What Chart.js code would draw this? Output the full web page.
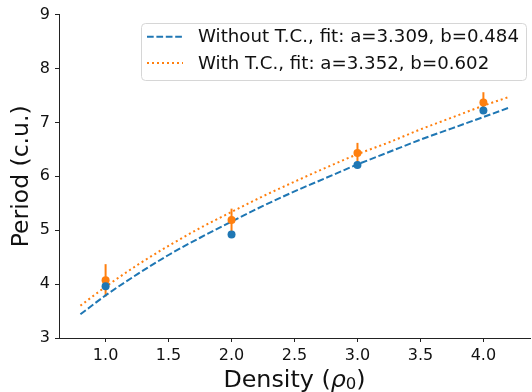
<!DOCTYPE html>
<html>
<head>
<meta charset="utf-8">
<script src="https://cdn.jsdelivr.net/npm/chart.js@4/dist/chart.umd.min.js"></script>
<style>
    html, body { margin: 0; padding: 0; background: #fff; overflow: hidden; }
    #wrap { width: 534px; height: 392px; }
</style>
</head>
<body>
<div id="wrap"><canvas id="chart"></canvas></div>
<script>
// measured points
const densities = [1.0, 2.0, 3.0, 4.0];
const periodNoTC = [3.96, 4.92, 6.21, 7.22];
const errNoTC = [0.03, 0.03, 0.03, 0.03];
const periodTC = [4.07, 5.19, 6.43, 7.37];
const errTC = [0.30, 0.21, 0.19, 0.19];

// fit curves
const fitDensity = [0.8, 1.0, 1.25, 1.5, 1.75, 2.0, 2.25, 2.5, 2.75, 3.0, 3.25, 3.5, 3.75, 4.0, 4.2];
const fitNoTC = [3.44, 3.79, 4.18, 4.54, 4.86, 5.16, 5.45, 5.72, 5.97, 6.22, 6.45, 6.68, 6.89, 7.10, 7.27];
const fitTC = [3.60, 3.95, 4.35, 4.71, 5.04, 5.34, 5.63, 5.90, 6.16, 6.41, 6.63, 6.87, 7.09, 7.31, 7.47];

const fitLabels = [
    'Without T.C., fit: a=3.309, b=0.484',
    'With T.C., fit: a=3.352, b=0.602',
];

const xTicks = [1.0, 1.5, 2.0, 2.5, 3.0, 3.5, 4.0];
const yTicks = [3, 4, 5, 6, 7, 8, 9];

const BLUE = '#1f77b4';
const ORANGE = '#ff7f0e';
const FONT = "'DejaVu Sans', sans-serif";
const DASH = [6.7, 2.7];
const DOT = [2, 3];

const pts = (xs, ys) => xs.map((x, i) => ({ x, y: ys[i] }));

// error bars, drawn under the markers
const errorBars = {
    id: 'errorBars',
    beforeDatasetsDraw(chart) {
        const { ctx, scales: { x, y } } = chart;
        const sets = [[periodTC, errTC, ORANGE], [periodNoTC, errNoTC, BLUE]];
        ctx.save();
        ctx.lineWidth = 2;
        for (const [vals, errs, color] of sets) {
            ctx.strokeStyle = color;
            densities.forEach((d, i) => {
                const px = x.getPixelForValue(d);
                ctx.beginPath();
                ctx.moveTo(px, y.getPixelForValue(vals[i] - errs[i]));
                ctx.lineTo(px, y.getPixelForValue(vals[i] + errs[i]));
                ctx.stroke();
            });
        }
        ctx.restore();
    },
};

// x label with italic rho and a subscript, like mathtext
const xLabel = {
    id: 'xLabel',
    afterDraw(chart) {
        const { ctx, scales: { x } } = chart;
        const parts = [
            ['Density (', `23.8px ${FONT}`, 0],
            ['ρ', `italic 23.8px ${FONT}`, 0],
            ['0', `16.5px ${FONT}`, 2.5],
            [')', `23.8px ${FONT}`, 0],
        ];
        ctx.save();
        let w = 0;
        for (const [t, f] of parts) { ctx.font = f; w += ctx.measureText(t).width; }
        let cx = (x.left + x.right) / 2 - w / 2;
        const base = 386.7;
        ctx.fillStyle = '#111';
        ctx.textBaseline = 'alphabetic';
        for (const [t, f, dy] of parts) {
            ctx.font = f;
            ctx.fillText(t, cx, base + dy);
            cx += ctx.measureText(t).width;
        }
        ctx.restore();
    },
};

// matplotlib style legend box, top right
const mplLegend = {
    id: 'mplLegend',
    afterDraw(chart) {
        const { ctx } = chart;
        const left = 141, top = 23, right = 526, bottom = 80;
        ctx.save();
        ctx.beginPath();
        ctx.roundRect(left + 0.5, top + 0.5, right - left, bottom - top, 4);
        ctx.fillStyle = 'rgba(255,255,255,0.8)';
        ctx.fill();
        ctx.strokeStyle = '#d6d6d6';
        ctx.lineWidth = 1;
        ctx.stroke();

        const rows = [[fitLabels[0], BLUE, DASH, 36.7], [fitLabels[1], ORANGE, DOT, 63]];
        ctx.font = `18.2px ${FONT}`;
        ctx.textBaseline = 'middle';
        for (const [text, color, dash, yy] of rows) {
            ctx.strokeStyle = color;
            ctx.lineWidth = 2;
            ctx.setLineDash(dash);
            ctx.beginPath();
            ctx.moveTo(147, yy);
            ctx.lineTo(183, yy);
            ctx.stroke();
            ctx.setLineDash([]);
            ctx.fillStyle = '#111';
            ctx.fillText(text, 198, yy + 1);
        }
        ctx.restore();
    },
};

new Chart(document.getElementById('chart'), {
    type: 'scatter',
    data: {
        datasets: [
            {
                label: fitLabels[0],
                type: 'line',
                data: pts(fitDensity, fitNoTC),
                borderColor: BLUE,
                borderWidth: 2,
                borderDash: DASH,
                pointRadius: 0,
                cubicInterpolationMode: 'monotone',
                order: 3,
            },
            {
                label: fitLabels[1],
                type: 'line',
                data: pts(fitDensity, fitTC),
                borderColor: ORANGE,
                borderWidth: 2,
                borderDash: DOT,
                pointRadius: 0,
                cubicInterpolationMode: 'monotone',
                order: 2,
            },
            {
                label: 'With T.C.',
                data: pts(densities, periodTC),
                backgroundColor: ORANGE,
                borderColor: ORANGE,
                pointRadius: 4,
                borderWidth: 0,
                order: 1,
            },
            {
                label: 'Without T.C.',
                data: pts(densities, periodNoTC),
                backgroundColor: BLUE,
                borderColor: BLUE,
                pointRadius: 4,
                borderWidth: 0,
                order: 0,
            },
        ],
    },
    options: {
        responsive: true,
        maintainAspectRatio: false,
        animation: false,
        layout: { padding: { top: 13, right: 0, bottom: 0, left: 0 } },
        plugins: {
            legend: { display: false },
            tooltip: { enabled: false },
        },
        scales: {
            x: {
                type: 'linear',
                min: 0.63,
                max: 4.37,
                afterBuildTicks: (s) => { s.ticks = xTicks.map((v) => ({ value: v })); },
                afterFit: (s) => { s.height = 54; },
                grid: { drawOnChartArea: false, drawTicks: true, tickLength: 4, color: '#222' },
                border: { display: true, color: '#222', width: 1 },
                ticks: {
                    padding: 4,
                    color: '#111',
                    font: { family: FONT, size: 16 },
                    callback: (v) => Number(v).toFixed(1),
                    maxRotation: 0,
                },
                title: { display: false },
            },
            y: {
                min: 3,
                max: 9,
                afterBuildTicks: (s) => { s.ticks = yTicks.map((v) => ({ value: v })); },
                afterFit: (s) => { s.width = 59; },
                grid: { drawOnChartArea: false, drawTicks: true, tickLength: 4, color: '#222' },
                border: { display: true, color: '#222', width: 1 },
                ticks: {
                    padding: 5,
                    color: '#111',
                    font: { family: FONT, size: 16 },
                },
                title: {
                    display: true,
                    text: 'Period (c.u.)',
                    color: '#111',
                    font: { family: FONT, size: 23.5, lineHeight: 1 },
                    padding: { top: 10, bottom: 0 },
                },
            },
        },
    },
    plugins: [errorBars, xLabel, mplLegend],
});
</script>
</body>
</html>
